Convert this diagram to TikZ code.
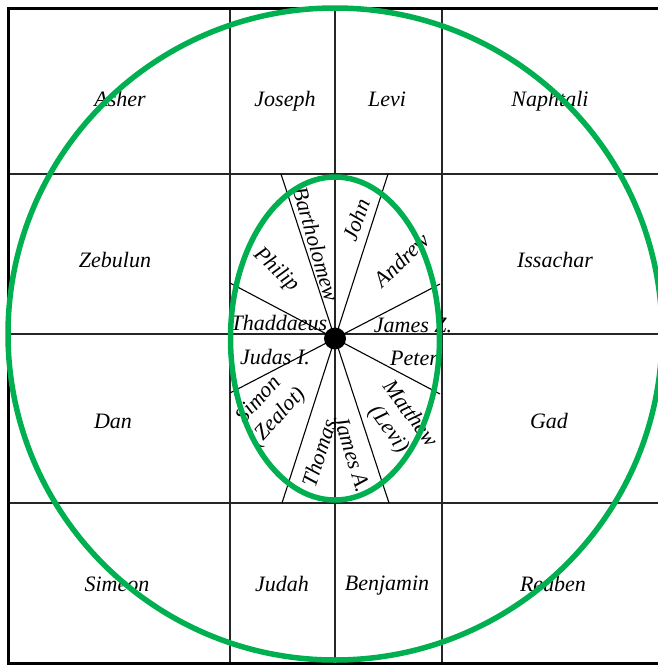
\documentclass[tikz,border=0pt]{standalone}
\usepackage{fontspec}
\setmainfont{Liberation Serif}
\definecolor{grn}{RGB}{0,176,80}
\begin{document}
\begin{tikzpicture}[x=1pt,y=-1pt,
  lbl/.style={font=\itshape\fontsize{22}{26}\selectfont, inner sep=0pt, align=center},
  gridline/.style={line width=1.2pt, draw=black!85},
  frameline/.style={line width=3pt, draw=black},
  ring/.style={draw=grn, line width=5.5pt},
  spoke/.style={line width=1.1pt, draw=black}]
\useasboundingbox (0,0) rectangle (658,665);
\clip (0,0) rectangle (658,665);
% grid
\draw[gridline] (230,8) -- (230,663);
\draw[gridline] (335,8) -- (335,663);
\draw[gridline] (442,8) -- (442,663);
\draw[gridline] (8,174) -- (700,174);
\draw[gridline] (8,334) -- (700,334);
\draw[gridline] (8,503) -- (700,503);
\draw[frameline] (700,8) -- (8,8) -- (8,663) -- (700,663);
% centre and spokes
\coordinate (c) at (335,338.5);
\coordinate (s1a) at (281,174);
\coordinate (s1b) at (389,503);
\coordinate (s2a) at (388,174);
\coordinate (s2b) at (282,503);
\coordinate (s3a) at (230,283);
\coordinate (s3b) at (440,394);
\coordinate (s4a) at (230,393);
\coordinate (s4b) at (440,284);
\draw[spoke] (s1a) -- (s1b);
\draw[spoke] (s2a) -- (s2b);
\draw[spoke] (s3a) -- (s3b);
\draw[spoke] (s4a) -- (s4b);
% outer labels
\node[lbl, anchor=base] (asher) at (120,106) {Asher};
\node[lbl, anchor=base] (joseph) at (285,106) {Joseph};
\node[lbl, anchor=base] (levi) at (387,106) {Levi};
\node[lbl, anchor=base] (naphtali) at (550,106) {Naphtali};
\node[lbl, anchor=base] (zebulun) at (115,267) {Zebulun};
\node[lbl, anchor=base] (issachar) at (555,267) {Issachar};
\node[lbl, anchor=base] (dan) at (113,428) {Dan};
\node[lbl, anchor=base] (gad) at (549,428) {Gad};
\node[lbl, anchor=base] (simeon) at (117,591) {Simeon};
\node[lbl, anchor=base] (judah) at (282,591) {Judah};
\node[lbl, anchor=base] (benjamin) at (387,590) {Benjamin};
\node[lbl, anchor=base] (reuben) at (553,591) {Reuben};
% inner labels
\node[lbl, anchor=base] (thaddaeus) at (279,330) {Thaddaeus};
\node[lbl, anchor=base] (judas) at (275,364) {Judas I.};
\node[lbl, anchor=base] (jamesz) at (413,332) {James Z.};
\node[lbl, anchor=base] (peter) at (414,365) {Peter};
\node[lbl, rotate=-74] (bartholomew) at (316,244) {Bartholomew};
\node[lbl, rotate=70] (john) at (356,220) {John};
\node[lbl, rotate=-44] (philip) at (276,270) {Philip};
\node[lbl, rotate=44] (andrew) at (402,260) {Andrew};
\node[lbl, rotate=48] (simon) at (269,409) {Simon\\(Zealot)};
\node[lbl, rotate=72] (thomas) at (319,453) {Thomas};
\node[lbl, rotate=-73] (jamesa) at (352,454) {James A.};
\node[lbl, rotate=-54] (matthew) at (399,422) {Matthew\\(Levi)};
% rings
\draw[ring] (335,334) ellipse [x radius=327pt, y radius=326pt];
\draw[ring] (c) ellipse [x radius=104.5pt, y radius=161.5pt];
\fill[black] (c) circle [radius=11pt];
\end{tikzpicture}
\end{document}
